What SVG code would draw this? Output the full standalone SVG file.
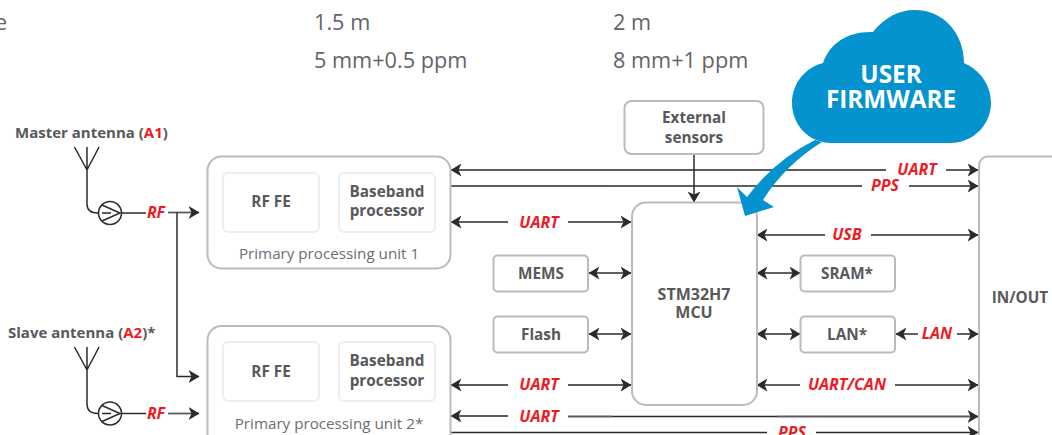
<svg xmlns="http://www.w3.org/2000/svg" width="1052" height="435" viewBox="0 0 1052 435">
<style>
text{font-family:"Open Sans","Noto Sans","Liberation Sans",sans-serif}
.top{font-size:21.7px;fill:#636466}
.b{font-size:15.300px;font-weight:700;fill:#58595b;text-anchor:middle}
.ant{font-size:15px;font-weight:700;fill:#58595b}
.r{fill:#ed1c24}
.l{font-size:16px;font-weight:700;font-style:italic;fill:#ed1c24;text-anchor:middle}
.cap{font-size:15.200px;fill:#6d6e71;text-anchor:middle}
.box{fill:#fff;stroke:#b9bbbd;stroke-width:2}
.inner{fill:#fff;stroke:#eeeeef;stroke-width:2}
.c{fill:none;stroke:#2b2a2c;stroke-width:1.5}
.g{fill:none;stroke:#5c5c5e;stroke-width:1.8}
.cl{fill:#0593d0}
</style>
<defs>
<marker id="h" viewBox="0 0 11 13" refX="10.5" refY="6.500" markerWidth="11" markerHeight="13" markerUnits="userSpaceOnUse" orient="auto-start-reverse"><path d="M0 0L11 6.500L0 13L3 6.500Z" fill="#2b2a2c"/></marker>
</defs>
<g id="spec">
<text class="top" x="-5" y="30">e</text>
<text class="top" x="314" y="30">1.5 m</text>
<text class="top" x="314" y="68">5 mm+0.5 ppm</text>
<text class="top" x="613" y="30">2 m</text>
<text class="top" x="613" y="68">8 mm+1 ppm</text>
</g>
<g id="connectors">
<path class="g" d="M451 170H886" marker-start="url(#h)"/><path class="c" d="M946 170H978" marker-end="url(#h)"/>
<path class="g" d="M451 186H612"/><path class="c" d="M612 186H778"/><path class="g" d="M778 186H862"/><path class="c" d="M909 186H978" marker-end="url(#h)"/>
<path class="c" d="M451 222H508" marker-start="url(#h)"/><path class="c" d="M568 222H631" marker-end="url(#h)"/>
<path class="c" d="M694 155V202" marker-end="url(#h)"/>
<path class="c" d="M589 273H631" marker-start="url(#h)" marker-end="url(#h)"/>
<path class="c" d="M589 334H631" marker-start="url(#h)" marker-end="url(#h)"/>
<path class="g" d="M451 385H508" marker-start="url(#h)"/><path class="g" d="M568 385H631" marker-end="url(#h)"/>
<path class="g" d="M451 416H508" marker-start="url(#h)"/><path class="g" d="M568 416.500H612"/><path class="c" d="M612 416.500H777"/><path class="g" d="M777 416.500H978" marker-end="url(#h)"/>
<path class="c" d="M451 432.500H767"/><path class="c" d="M816 432.500H978" marker-end="url(#h)"/>
<path class="c" d="M757 235H825" marker-start="url(#h)"/><path class="c" d="M871 235H978" marker-end="url(#h)"/>
<path class="c" d="M757 273H800" marker-start="url(#h)" marker-end="url(#h)"/>
<path class="c" d="M757 334H800" marker-start="url(#h)" marker-end="url(#h)"/>
<path class="c" d="M896 334H918" marker-start="url(#h)"/><path class="c" d="M957 334H978" marker-end="url(#h)"/>
<path class="c" d="M757 385H800" marker-start="url(#h)"/><path class="c" d="M895 385H978" marker-end="url(#h)"/>
<path class="g" d="M168 212.500H199" marker-end="url(#h)"/><path class="c" d="M177 212.500V376.500H199" marker-end="url(#h)"/>
<path class="g" d="M168 413.500H199" marker-end="url(#h)"/>
<path class="c" d="M122 213H146M122 413.500H146"/>
</g>
<g id="antenna1">
<text class="ant" x="15" y="138">Master antenna (<tspan class="r">A1</tspan>)</text>
<path class="c" d="M74.500 147L87 170L99 147M87 147V204Q87 213 98 213"/>
<circle cx="110" cy="213" r="11.500" fill="#fff" stroke="#2b2a2c" stroke-width="1.500"/>
<path class="c" d="M102 205L120 213L102 221M102 213L111 213" stroke-width="1.200"/>
<text class="l" x="156" y="218">RF</text>
</g>
<g id="antenna2">
<text class="ant" x="8" y="338">Slave antenna (<tspan class="r">A2</tspan>)*</text>
<path class="c" d="M74.500 347L87 370L99 347M87 347V404Q87 413.500 98 413.500"/>
<circle cx="110" cy="413.500" r="11.500" fill="#fff" stroke="#2b2a2c" stroke-width="1.500"/>
<path class="c" d="M102 405.500L120 413.500L102 421.500M102 413.500L111 413.500" stroke-width="1.200"/>
<text class="l" x="156" y="419">RF</text>
</g>
<g id="unit1">
<rect class="box" x="207.500" y="156.500" width="243" height="112" rx="14"/>
<rect class="inner" x="223" y="173" width="96" height="59" rx="5"/>
<rect class="inner" x="339" y="173" width="96" height="59" rx="5"/>
<text class="b" x="271" y="207">RF FE</text>
<text class="b" x="387" y="197">Baseband</text><text class="b" x="387" y="216">processor</text>
<text class="cap" x="329" y="259">Primary processing unit 1</text>
</g>
<g id="unit2">
<rect class="box" x="207.500" y="326" width="243" height="124" rx="14"/>
<rect class="inner" x="223" y="342" width="96" height="59" rx="5"/>
<rect class="inner" x="339" y="342" width="96" height="59" rx="5"/>
<text class="b" x="271" y="377">RF FE</text>
<text class="b" x="387" y="366">Baseband</text><text class="b" x="387" y="386">processor</text>
<text class="cap" x="329" y="429">Primary processing unit 2*</text>
</g>
<g id="sensors"><rect class="box" x="624.500" y="101" width="139" height="53" rx="7"/><text class="b" x="694" y="123">External</text><text class="b" x="694" y="143">sensors</text></g>
<g id="mcu"><rect class="box" x="632" y="202.500" width="125" height="202.500" rx="14"/><text class="b" x="694" y="300" style="font-size:16px">STM32H7</text><text class="b" x="694" y="318" style="font-size:16px">MCU</text></g>
<g id="mems"><rect class="box" x="493.500" y="255.500" width="94.500" height="36" rx="4"/><text class="b" x="541" y="279">MEMS</text></g>
<g id="flash"><rect class="box" x="493.500" y="316.500" width="94.500" height="36" rx="4"/><text class="b" x="541" y="340">Flash</text></g>
<g id="sram"><rect class="box" x="800.500" y="255.500" width="94.500" height="36" rx="4"/><text class="b" x="847" y="279">SRAM*</text></g>
<g id="lan"><rect class="box" x="800.500" y="316.500" width="94.500" height="36" rx="4"/><text class="b" x="847" y="340">LAN*</text></g>
<g id="inout"><rect class="box" x="979" y="156.500" width="90" height="300" rx="9"/><text class="b" x="1020" y="303">IN/OUT</text></g>
<g id="labels">
<text class="l" x="917" y="175">UART</text><text class="l" x="885" y="191">PPS</text>
<text class="l" x="539" y="228">UART</text><text class="l" x="847" y="240">USB</text><text class="l" x="937" y="339">LAN</text>
<text class="l" x="539" y="390">UART</text><text class="l" x="847" y="390">UART/CAN</text><text class="l" x="539" y="422">UART</text><text class="l" x="792" y="438">PPS</text>
</g>
<g id="firmware">
<path class="cl" d="M832 143C808 143 792 124 792 103C792 83 806 67 823 63C830 43 848 31 873 32C884 18 898 10 915 10C943 10 964 33 964 63C980 70 991 85 991 103C991 125 973 143 950 143Z"/>
<path class="cl" d="M815 140Q775 160 747 197L737 187L745 216L774 207L763 200Q785 165 822 142Z"/>
<text x="891" y="83" fill="#fff" font-size="24.300" font-weight="700" text-anchor="middle">USER</text>
<text x="891" y="108" fill="#fff" font-size="24.300" font-weight="700" text-anchor="middle">FIRMWARE</text>
</g>
</svg>
